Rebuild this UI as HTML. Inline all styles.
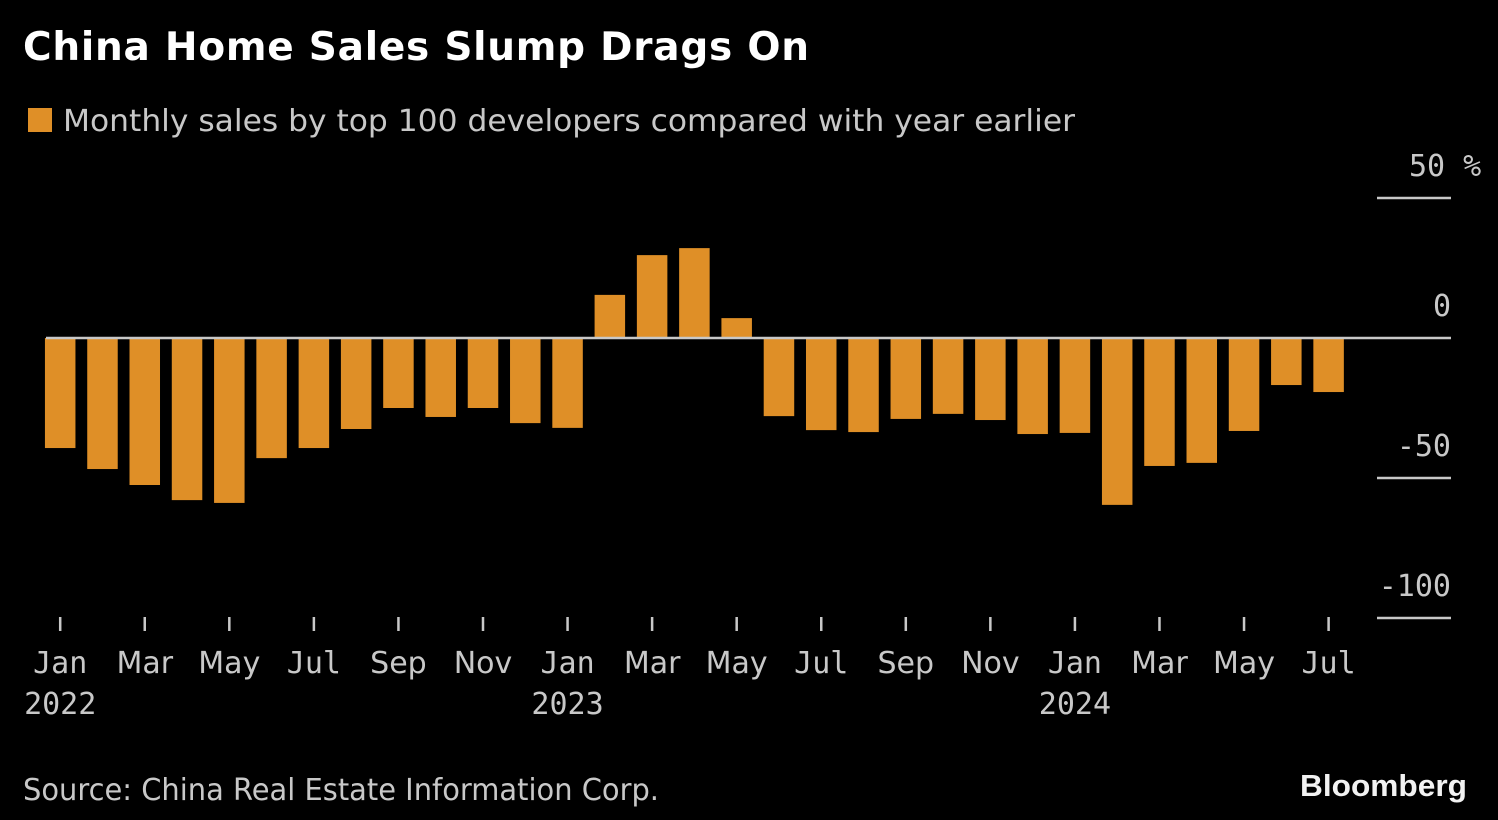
<!DOCTYPE html>
<html>
<head>
<meta charset="utf-8">
<style>
html,body{margin:0;padding:0;background:#000;width:1498px;height:820px;overflow:hidden}
svg{display:block}
text{font-family:"DejaVu Sans","Liberation Sans",sans-serif}
.tick{font-size:30px;fill:#c8c8c8;font-family:"DejaVu Sans",sans-serif}
.mono{font-size:30px;fill:#c8c8c8;font-family:"DejaVu Sans Mono","Liberation Mono",monospace}
</style>
</head>
<body>
<svg id="chart" width="1498" height="820" viewBox="0 0 1498 820" xmlns="http://www.w3.org/2000/svg">
<rect width="1498" height="820" fill="#000"/>
<text x="23" y="60" font-size="39" font-weight="bold" fill="#fff" textLength="786" lengthAdjust="spacing">China Home Sales Slump Drags On</text>
<rect x="28" y="108" width="24" height="24" fill="#df8f27"/>
<text x="63" y="131" class="tick" textLength="1012" lengthAdjust="spacingAndGlyphs">Monthly sales by top 100 developers compared with year earlier</text>
<g id="y-axis"></g>
<g id="bars"></g>
<line id="zero-line" stroke="#c8c8c8" stroke-width="2.5"/>
<g id="x-axis"></g>
<text x="23" y="800" class="tick" textLength="636" lengthAdjust="spacingAndGlyphs">Source: China Real Estate Information Corp.</text>
<text x="1300" y="796" font-size="31" font-weight="bold" fill="#f2f2f2" textLength="167" lengthAdjust="spacingAndGlyphs" style="font-family:'Liberation Sans',sans-serif">Bloomberg</text>
</svg>
<script>
const salesChange = [-39.3,-46.8,-52.5,-57.9,-58.9,-42.9,-39.3,-32.5,-25,-28.2,-25,-30.4,-32.1,15.4,29.6,32.1,7.1,-27.9,-32.9,-33.6,-28.9,-27.1,-29.3,-34.3,-33.9,-59.6,-45.7,-44.6,-33.2,-16.8,-19.3];
const monthLabels = ['Jan','Mar','May','Jul','Sep','Nov','Jan','Mar','May','Jul','Sep','Nov','Jan','Mar','May','Jul'];
const yearLabels = ['2022','','','','','','2023','','','','','','2024','','',''];
const yTicks = [50,0,-50,-100];
const yTickLabels = ['50 %','0','-50','-100'];

const NS = 'http://www.w3.org/2000/svg';
const yScale = v => 338 - v * 2.8;
const xScale = i => 60.2 + i * 42.28;
const barWidth = 30.5;

function mk(tag, attrs, parent, txt) {
  const el = document.createElementNS(NS, tag);
  for (const k in attrs) el.setAttribute(k, attrs[k]);
  if (txt !== undefined) el.textContent = txt;
  parent.appendChild(el);
  return el;
}

const barsG = document.getElementById('bars');
salesChange.forEach((v, i) => {
  const y0 = yScale(0), y1 = yScale(v);
  const r = mk('rect', {x: xScale(i) - barWidth / 2, y: Math.min(y0, y1), width: barWidth, height: Math.abs(y1 - y0), fill: '#df8f27'}, barsG);
  
  
});

const zl = document.getElementById('zero-line');
zl.setAttribute('x1', 46);
zl.setAttribute('x2', 1451);
zl.setAttribute('y1', yScale(0));
zl.setAttribute('y2', yScale(0));

const yG = document.getElementById('y-axis');
yTicks.forEach((t, i) => {
  const y = yScale(t);
  if (t !== 0) {
    const l = mk('line', {x1: 1377, x2: 1451, y1: y, y2: y, stroke: '#c8c8c8', 'stroke-width': 2.5}, yG);
    
    
  }
  const isTop = i === 0;
  const lb = mk('text', {x: isTop ? 1409 : 1451, y: y - 22, class: 'mono', 'text-anchor': isTop ? 'start' : 'end'}, yG, yTickLabels[i]);
  
  
});

const xG = document.getElementById('x-axis');
monthLabels.forEach((m, i) => {
  const x = xScale(i * 2);
  const tk = mk('line', {x1: x, x2: x, y1: 617, y2: 631, stroke: '#c8c8c8', 'stroke-width': 2.5}, xG);
  
  
  const ml = mk('text', {x: x, y: 673, class: m[0] === 'J' ? 'mono' : 'tick', 'text-anchor': 'middle'}, xG, m);
  
  
  if (yearLabels[i]) {
    const yl = mk('text', {x: x, y: 714, class: 'mono', 'text-anchor': 'middle'}, xG, yearLabels[i]);
    
    
  }
});
</script>
</body>
</html>
